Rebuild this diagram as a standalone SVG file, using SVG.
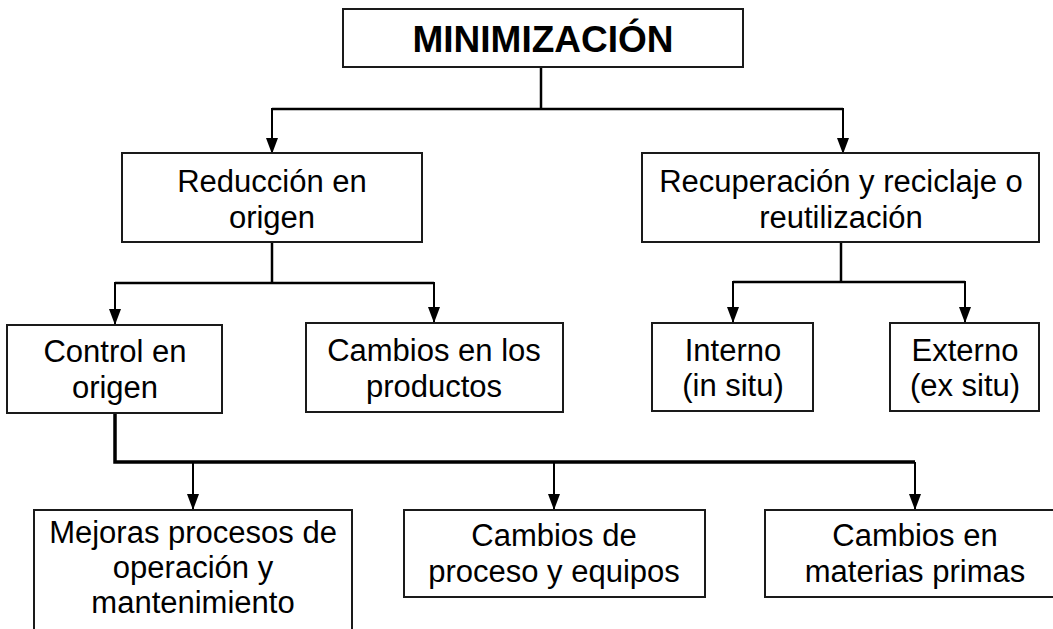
<svg xmlns="http://www.w3.org/2000/svg" width="1053" height="629" viewBox="0 0 1053 629">
  <defs>
    <marker id="arr" markerUnits="userSpaceOnUse" markerWidth="12" markerHeight="16" viewBox="0 0 12 16" refX="6" refY="16" orient="0">
      <path d="M0,0 L12,0 L6,16 Z" fill="#000"/>
    </marker>
  </defs>
  <style>
    .box { fill: #fff; stroke: #1a1a1a; stroke-width: 2; }
    .t { font-family: "Liberation Sans", Arial, sans-serif; font-size: 31px; fill: #000; text-anchor: middle; }
    .title { font-family: "Liberation Sans", Arial, sans-serif; font-size: 37px; font-weight: bold; fill: #000; text-anchor: middle; }
    .c { fill: none; stroke: #000; stroke-width: 2.5; }
    .c3 { fill: none; stroke: #000; stroke-width: 3.5; }
    .a { fill: none; stroke: #000; stroke-width: 2; marker-end: url(#arr); }
  </style>
  <rect width="1053" height="629" fill="#fff"/>

  <g id="connectors">
    <polyline class="c" points="541,67 541,109"/>
    <polyline class="c" points="272,109 843,109"/>
    <line class="a" x1="272" y1="108" x2="272" y2="154"/>
    <line class="a" x1="843" y1="108" x2="843" y2="154"/>

    <polyline class="c" points="272,242 272,283"/>
    <polyline class="c" points="115,283 434,283"/>
    <line class="a" x1="115" y1="282" x2="115" y2="325"/>
    <line class="a" x1="434" y1="282" x2="434" y2="323"/>

    <polyline class="c" points="841,242 841,282"/>
    <polyline class="c" points="733,282 965,282"/>
    <line class="a" x1="733" y1="281" x2="733" y2="323"/>
    <line class="a" x1="965" y1="281" x2="965" y2="323"/>

    <polyline class="c3" points="115,413 115,462 915,462"/>
    <line class="a" x1="193" y1="462" x2="193" y2="510"/>
    <line class="a" x1="554" y1="462" x2="554" y2="510"/>
    <line class="a" x1="915" y1="462" x2="915" y2="510"/>
  </g>

  <g id="minimizacion">
    <rect class="box" x="343" y="9" width="400" height="58"/>
    <text class="title" x="543" y="52">MINIMIZACIÓN</text>
  </g>

  <g id="reduccion">
    <rect class="box" x="122" y="153" width="300" height="89"/>
    <text class="t" x="272" y="192">Reducción en</text>
    <text class="t" x="272" y="228">origen</text>
  </g>

  <g id="recuperacion">
    <rect class="box" x="642" y="153" width="397" height="89"/>
    <text class="t" x="841" y="192">Recuperación y reciclaje o</text>
    <text class="t" x="841" y="228">reutilización</text>
  </g>

  <g id="control">
    <rect class="box" x="7" y="325" width="215" height="88"/>
    <text class="t" x="115" y="362">Control en</text>
    <text class="t" x="115" y="398">origen</text>
  </g>

  <g id="cambios-productos">
    <rect class="box" x="306" y="323" width="257" height="89"/>
    <text class="t" x="434" y="361">Cambios en los</text>
    <text class="t" x="434" y="397">productos</text>
  </g>

  <g id="interno">
    <rect class="box" x="652" y="323" width="161" height="88"/>
    <text class="t" x="733" y="361">Interno</text>
    <text class="t" x="733" y="396">(in situ)</text>
  </g>

  <g id="externo">
    <rect class="box" x="890" y="323" width="149" height="88"/>
    <text class="t" x="965" y="361">Externo</text>
    <text class="t" x="965" y="396">(ex situ)</text>
  </g>

  <g id="mejoras">
    <rect class="box" x="34" y="510" width="318" height="130"/>
    <text class="t" x="193" y="543">Mejoras procesos de</text>
    <text class="t" x="193" y="578">operación y</text>
    <text class="t" x="193" y="613">mantenimiento</text>
  </g>

  <g id="cambios-proceso">
    <rect class="box" x="404" y="510" width="301" height="87"/>
    <text class="t" x="554" y="546">Cambios de</text>
    <text class="t" x="554" y="582">proceso y equipos</text>
  </g>

  <g id="cambios-materias">
    <rect class="box" x="765" y="510" width="300" height="87"/>
    <text class="t" x="915" y="546">Cambios en</text>
    <text class="t" x="915" y="582">materias primas</text>
  </g>
</svg>
